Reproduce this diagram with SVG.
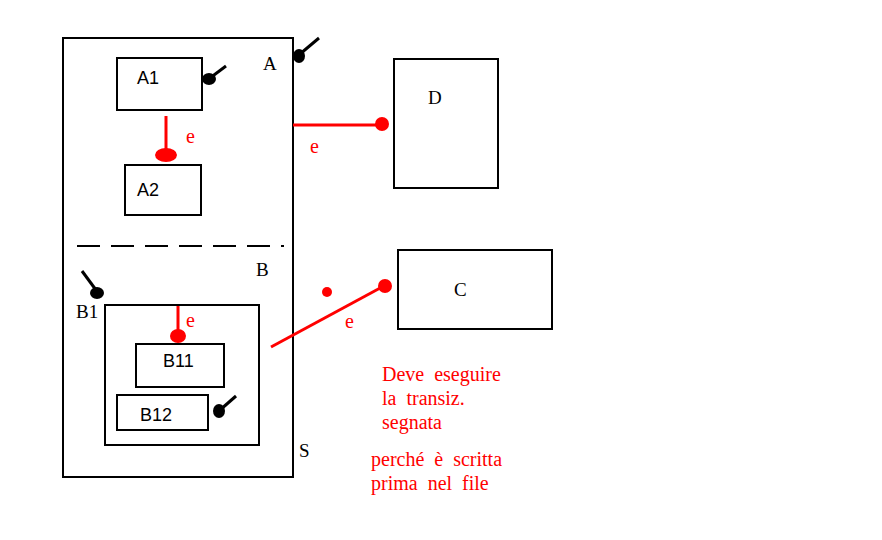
<svg xmlns="http://www.w3.org/2000/svg" width="882" height="540" viewBox="0 0 882 540">
<style>
.box{fill:none;stroke:#000;stroke-width:2}
.sans{font-family:"Liberation Sans",Arial,sans-serif;font-size:18px;fill:#000}
.serif{font-family:"Liberation Serif","Times New Roman",serif;font-size:19px;fill:#000}
.red{font-family:"Liberation Serif","Times New Roman",serif;font-size:20px;fill:#f00;word-spacing:5px}
.rl{stroke:#f00;stroke-width:3;fill:none}
.bl{stroke:#000;stroke-width:3;fill:none}
.rb{fill:#f00}
.bb{fill:#000}
</style>
<rect width="882" height="540" fill="#fff"/>
<g id="S">
<rect class="box" x="63" y="38" width="230" height="439"/>
<text class="serif" x="299" y="457">S</text>
</g>
<g id="A">
<text class="serif" x="263" y="70">A</text>
</g>
<g id="A1">
<rect class="box" x="117" y="58" width="85" height="52"/>
<text class="sans" x="137" y="84">A1</text>
</g>
<g id="A2">
<rect class="box" x="125" y="165" width="76" height="50"/>
<text class="sans" x="137" y="196">A2</text>
</g>
<g id="divider">
<line x1="77" y1="246" x2="284" y2="246" stroke="#000" stroke-width="2" stroke-dasharray="23,11"/>
</g>
<g id="B">
<text class="serif" x="256" y="276">B</text>
</g>
<g id="B1">
<rect class="box" x="105" y="305" width="154" height="140"/>
<text class="serif" x="76" y="318">B1</text>
</g>
<g id="B11">
<rect class="box" x="136" y="344" width="88" height="43"/>
<text class="sans" x="163" y="367">B11</text>
</g>
<g id="B12">
<rect class="box" x="117" y="395" width="91" height="35"/>
<text class="sans" x="140" y="421">B12</text>
</g>
<g id="D">
<rect class="box" x="394" y="59" width="104" height="129"/>
<text class="serif" x="428" y="104">D</text>
</g>
<g id="C">
<rect class="box" x="398" y="250" width="154" height="79"/>
<text class="serif" x="454" y="296">C</text>
</g>
<g id="connectors">
<line class="bl" x1="319" y1="38" x2="300" y2="54"/>
<ellipse class="bb" cx="299" cy="56" rx="6" ry="7"/>
<line class="bl" x1="226" y1="66" x2="210" y2="78"/>
<ellipse class="bb" cx="209" cy="79" rx="7" ry="6"/>
<line class="bl" x1="82" y1="271" x2="96" y2="290"/>
<ellipse class="bb" cx="97" cy="293" rx="7" ry="6"/>
<line class="bl" x1="236" y1="396" x2="220" y2="410"/>
<ellipse class="bb" cx="219" cy="411" rx="6" ry="7"/>
<line class="rl" x1="166" y1="116" x2="166" y2="152"/>
<ellipse class="rb" cx="166" cy="155" rx="11" ry="7"/>
<text class="red" x="186" y="143">e</text>
<line class="rl" x1="293" y1="125" x2="380" y2="125"/>
<ellipse class="rb" cx="382" cy="124" rx="7" ry="7"/>
<text class="red" x="310" y="153">e</text>
<line class="rl" x1="178" y1="306" x2="178" y2="332"/>
<ellipse class="rb" cx="178" cy="336" rx="8" ry="7"/>
<text class="red" x="186" y="327">e</text>
<line class="rl" x1="271" y1="347" x2="382" y2="287"/>
<ellipse class="rb" cx="385" cy="286" rx="7" ry="7"/>
<circle class="rb" cx="327" cy="292" r="5"/>
<text class="red" x="345" y="328">e</text>
</g>
<g id="note">
<text class="red" x="382" y="381">Deve eseguire</text>
<text class="red" x="382" y="405">la transiz.</text>
<text class="red" x="382" y="429">segnata</text>
<text class="red" x="371" y="466">perché è scritta</text>
<text class="red" x="371" y="490">prima nel file</text>
</g>
</svg>
